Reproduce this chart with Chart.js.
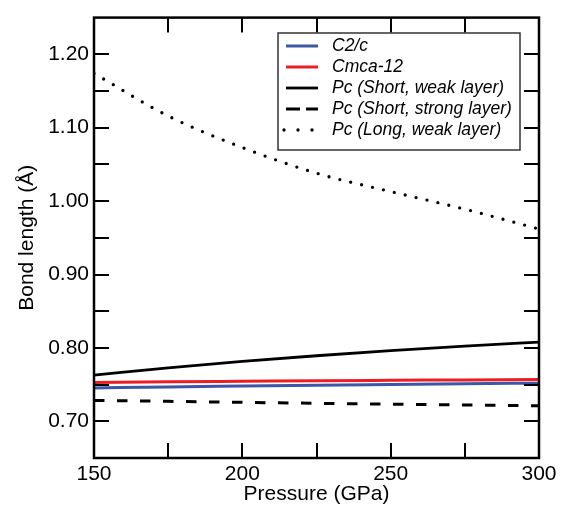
<!DOCTYPE html>
<html lang="en">
<head>
    <meta charset="UTF-8">
    <title>Bond length vs pressure</title>
    <script src="https://cdnjs.cloudflare.com/ajax/libs/Chart.js/4.4.0/chart.umd.min.js"></script>
    <style>
        body {
            margin: 0;
            background: white;
        }
        .chart-box {
            width: 568px;
            height: 508px;
        }
    </style>
</head>
<body>
    <div class="chart-box">
        <canvas id="bondChart" width="568" height="508"></canvas>
    </div>

    <script>
        // Values
        const pressure = [150, 175, 200, 225, 250, 275, 300];
        const c2c = [0.7455, 0.7468, 0.7480, 0.7492, 0.7502, 0.7512, 0.7520];
        const cmca12 = [0.7530, 0.7538, 0.7545, 0.7552, 0.7558, 0.7564, 0.7570];
        const pcShortWeak = [0.7630, 0.7728, 0.7815, 0.7893, 0.7963, 0.8025, 0.8080];
        const pcShortStrong = [0.7285, 0.7272, 0.7258, 0.7245, 0.7233, 0.7222, 0.7212];
        const pcLongWeak = [1.174, 1.116, 1.073, 1.038, 1.013, 0.989, 0.962];

        const seriesLabels = ['C2/c', 'Cmca-12', 'Pc (Short, weak layer)', 'Pc (Short, strong layer)', 'Pc (Long, weak layer)'];

        const FONT = 'Liberation Sans, Arial, Helvetica, sans-serif';

        function toPoints(values) {
            return pressure.map((p, i) => ({ x: p, y: values[i] }));
        }

        // inward ticks on all four sides plus the frame
        const framePlugin = {
            id: 'frame',
            afterDatasetsDraw(chart) {
                const { ctx, chartArea: a, scales } = chart;
                const len = 15;
                ctx.save();
                ctx.strokeStyle = '#000';
                ctx.lineWidth = 2;
                ctx.beginPath();
                scales.x.ticks.forEach(t => {
                    if (t.value <= scales.x.min || t.value >= scales.x.max) return;
                    const px = Math.round(scales.x.getPixelForValue(t.value));
                    ctx.moveTo(px, a.bottom); ctx.lineTo(px, a.bottom - len);
                    ctx.moveTo(px, a.top); ctx.lineTo(px, a.top + len);
                });
                scales.y.ticks.forEach(t => {
                    if (t.value <= scales.y.min + 1e-6 || t.value >= scales.y.max - 1e-6) return;
                    const py = Math.round(scales.y.getPixelForValue(t.value));
                    ctx.moveTo(a.left, py); ctx.lineTo(a.left + len, py);
                    ctx.moveTo(a.right, py); ctx.lineTo(a.right - len, py);
                });
                ctx.stroke();
                ctx.lineWidth = 2.5;
                ctx.strokeRect(a.left, a.top, a.right - a.left, a.bottom - a.top);
                ctx.restore();
            }
        };

        // boxed legend in the upper right, like the original
        const legendPlugin = {
            id: 'boxLegend',
            afterDraw(chart) {
                const { ctx } = chart;
                const box = { x: 278, y: 33, w: 242, h: 117 };
                const rowY = 46, rowStep = 21;
                ctx.save();
                ctx.fillStyle = '#fff';
                ctx.fillRect(box.x, box.y, box.w, box.h);
                ctx.strokeStyle = '#333';
                ctx.lineWidth = 1.5;
                ctx.strokeRect(box.x, box.y, box.w, box.h);
                ctx.font = 'italic 17.5px ' + FONT;
                ctx.textBaseline = 'middle';
                chart.data.datasets.forEach((ds, i) => {
                    const y = rowY + i * rowStep;
                    ctx.strokeStyle = ds.borderColor;
                    ctx.lineWidth = ds.borderWidth;
                    ctx.lineCap = ds.borderCapStyle || 'butt';
                    ctx.setLineDash(ds.legendDash || []);
                    ctx.beginPath();
                    ctx.moveTo(ds.legendDash && ds.legendDash[0] === 0 ? 284 : 286, y);
                    ctx.lineTo(318, y);
                    ctx.stroke();
                    ctx.setLineDash([]);
                    ctx.fillStyle = '#000';
                    ctx.fillText(ds.label, 332, y);
                });
                ctx.restore();
            }
        };

        new Chart(document.getElementById('bondChart'), {
            type: 'line',
            data: {
                datasets: [{
                    label: seriesLabels[0],
                    data: toPoints(c2c),
                    borderColor: '#3c57a6',
                    borderWidth: 3
                }, {
                    label: seriesLabels[1],
                    data: toPoints(cmca12),
                    borderColor: '#ee1d25',
                    borderWidth: 3
                }, {
                    label: seriesLabels[2],
                    data: toPoints(pcShortWeak),
                    borderColor: '#000',
                    borderWidth: 2.8
                }, {
                    label: seriesLabels[3],
                    data: toPoints(pcShortStrong),
                    borderColor: '#000',
                    borderWidth: 3,
                    borderDash: [10.5, 12.5],
                    legendDash: [14, 6]
                }, {
                    label: seriesLabels[4],
                    data: toPoints(pcLongWeak),
                    borderColor: '#000',
                    borderWidth: 3.3,
                    borderCapStyle: 'round',
                    borderDash: [0, 11.2],
                    legendDash: [0, 14]
                }]
            },
            options: {
                responsive: false,
                animation: false,
                layout: {
                    padding: { top: 13, right: 29, left: 0, bottom: 0 }
                },
                elements: {
                    point: { radius: 0 },
                    line: { tension: 0, cubicInterpolationMode: 'monotone', fill: false }
                },
                plugins: {
                    legend: { display: false },
                    tooltip: { enabled: false }
                },
                scales: {
                    x: {
                        type: 'linear',
                        min: 150,
                        max: 300,
                        grid: { display: false, drawTicks: false },
                        border: { display: false },
                        ticks: {
                            stepSize: 25,
                            padding: 4,
                            color: '#000',
                            font: { family: FONT, size: 21 },
                            maxRotation: 0,
                            autoSkip: false,
                            callback: v => (v % 50 === 0 ? String(v) : '')
                        },
                        title: {
                            display: true,
                            text: 'Pressure (GPa)',
                            color: '#000',
                            font: { family: FONT, size: 21 },
                            padding: { top: 0, bottom: 1 }
                        },
                        afterFit: s => { s.height = 50; }
                    },
                    y: {
                        min: 0.65,
                        max: 1.25,
                        grid: { display: false, drawTicks: false },
                        border: { display: false },
                        ticks: {
                            stepSize: 0.05,
                            padding: 5,
                            color: '#000',
                            font: { family: FONT, size: 21 },
                            autoSkip: false,
                            callback: v => (Math.round(v * 100) % 10 === 0 ? v.toFixed(2) : '')
                        },
                        title: {
                            display: true,
                            text: 'Bond length (Å)',
                            color: '#000',
                            font: { family: FONT, size: 21 },
                            padding: { top: 15, bottom: 0 }
                        },
                        afterFit: s => { s.width = 94; }
                    }
                }
            },
            plugins: [framePlugin, legendPlugin]
        });
    </script>
</body>
</html>
